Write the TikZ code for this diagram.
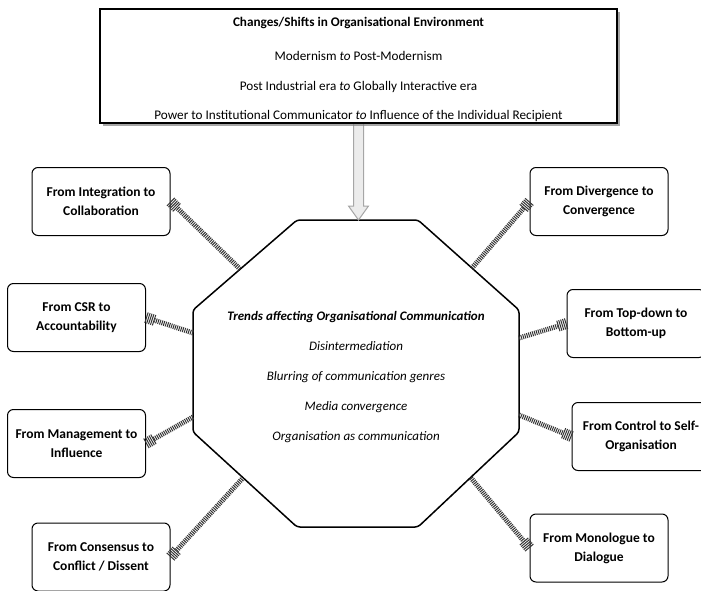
\documentclass[tikz,border=0pt]{standalone}
\usepackage{fontspec}
\setmainfont{Carlito}
\usepackage{tikz}
\usetikzlibrary{calc,shadows,arrows.meta,positioning}

\begin{document}
\begin{tikzpicture}[x=1pt,y=-1pt,
  box/.style={draw, rounded corners=6pt, line width=1pt, minimum width=138pt,
    minimum height=68pt, align=center, font=\bfseries\fontsize{13.5}{19}\selectfont},
  hatch/.style={draw=black!80, line width=5pt, dash pattern=on 1pt off 1pt},
  hatchhead/.style={draw=black!80, line width=11pt, dash pattern=on 1pt off 1pt},
  bigarrow/.style={fill=gray!15, draw=gray!70, line width=1pt}]

    \useasboundingbox (0,0) rectangle (701,591);
    \clip (0,0) rectangle (701,591);

% the octagon of trends

    \draw[line width=1.5pt, rounded corners=3pt] (297,220) -- (418,220) -- (519,310)
    -- (519,432) -- (418,527) -- (297,527) -- (193,432) -- (193,310) -- cycle;

    \node[align=center, font=\itshape\fontsize{13}{15}\selectfont] (trends) at (356,377)
    {\textbf{Trends affecting Organisational Communication}\\[15pt]
     Disintermediation\\[15pt]
     Blurring of communication genres\\[15pt]
     Media convergence\\[15pt]
     Organisation as communication};

    \coordinate (oTop) at (358.5,220);
    \coordinate (oInteg) at (240,269);
    \coordinate (oCsr) at (193,333);
    \coordinate (oMgmt) at (193,417);
    \coordinate (oCons) at (242,479);
    \coordinate (oDiverg) at (472,268);
    \coordinate (oTopdown) at (519,338);
    \coordinate (oControl) at (519,415);
    \coordinate (oMono) at (471,478);

% the shifts

    \node[box] (integ) at (101,201.5) {From Integration to\\Collaboration};
    \node[box] (csr) at (76.5,317.5) {From CSR to\\Accountability};
    \node[box] (mgmt) at (76.5,443.5) {From Management to\\Influence};
    \node[box] (cons) at (101,557) {From Consensus to\\Conflict / Dissent};

    \node[box] (diverg) at (599,201.5) {From Divergence to\\Convergence};
    \node[box] (topdown) at (636,323.5) {From Top-down to\\Bottom-up};
    \node[box] (control) at (641,436.5) {From Control to Self-\\Organisation};
    \node[box] (mono) at (599,548) {From Monologue to\\Dialogue};

    \foreach \t/\h in {oInteg/integ.east, oCsr/csr.east, oMgmt/mgmt.east,
      oCons/cons.east, oDiverg/diverg.west, oTopdown/topdown.west,
      oControl/control.west, oMono/mono.west}{
      \draw[hatch, shorten >=9pt] (\t) -- (\h);
      \draw[hatchhead] ($(\h)!9pt!(\t)$) -- (\h);
    }

% the environment

    \filldraw[bigarrow] (358.5-5,123) -- ($(oTop)+(-5,-14)$) -- ($(oTop)+(-10,-14)$)
    -- (oTop) -- ($(oTop)+(10,-14)$) -- ($(oTop)+(5,-14)$) -- (358.5+5,123) -- cycle;

    \node[draw, fill=white, line width=1.2pt, minimum width=517pt, minimum height=114pt,
    drop shadow={shadow xshift=3pt, shadow yshift=-3pt, opacity=0.7}] (top) at (358.5,66) {};
    \node[align=center, font=\fontsize{13.2}{15}\selectfont] (envtext) at (358.5,69.5)
    {\textbf{Changes/Shifts in Organisational Environment}\\[19pt]
     Modernism \textit{to} Post-Modernism\\[15pt]
     Post Industrial era \textit{to} Globally Interactive era\\[14pt]
     Power to Institutional Communicator \textit{to} Influence of the Individual Recipient};

\end{tikzpicture}
\end{document}
